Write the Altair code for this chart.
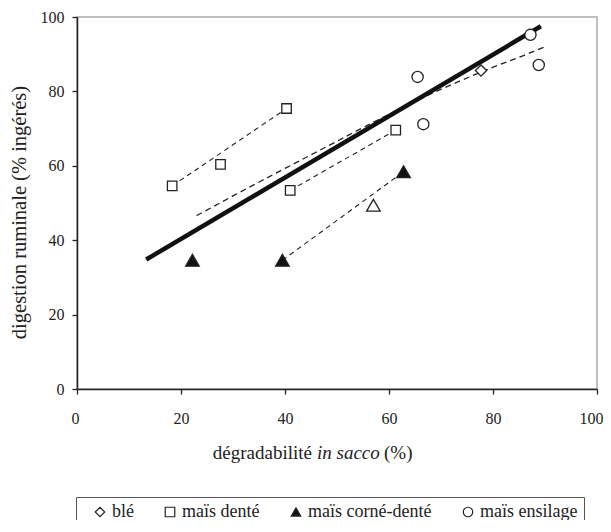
import altair as alt
import pandas as pd

# ---- data ----
categories = ["blé", "maïs denté", "maïs corné-denté", "maïs ensilage"]
pt_x = [77.7, 18.3, 27.6, 40.3, 41.0, 61.3, 22.2, 39.5, 62.8, 65.5, 66.6, 87.2, 88.8]
pt_y = [85.6, 54.6, 60.4, 75.4, 53.4, 69.6, 34.6, 34.6, 58.4, 83.9, 71.2, 95.2, 87.1]
pt_cat = ["blé", "maïs denté", "maïs denté", "maïs denté", "maïs denté", "maïs denté",
          "maïs corné-denté", "maïs corné-denté", "maïs corné-denté",
          "maïs ensilage", "maïs ensilage", "maïs ensilage", "maïs ensilage"]
open_tri_x = [57.0]
open_tri_y = [49.4]

# thick overall regression line
thick_x = [13.3, 89.2]
thick_y = [34.8, 97.5]

# dashed overall curve
curve_x = [23, 30, 40, 50, 56, 62, 68, 74, 80, 86, 90]
curve_y = [46.6, 51.9, 59.3, 66.6, 71.0, 75.2, 79.3, 83.0, 86.5, 89.7, 92.0]

# dashed within-group lines
grp_id = ["a", "a", "b", "b", "c", "c"]
grp_x = [18.3, 40.3, 41.0, 61.3, 39.5, 62.8]
grp_y = [54.6, 75.4, 53.4, 69.6, 34.6, 58.4]

ticks = [0, 20, 40, 60, 80, 100]
x_title_parts = ["dégradabilité", "in sacco", "(%)"]
y_title = "digestion ruminale (% ingérés)"

FONT = "Liberation Serif"
INK = "#222222"

W, H = 520, 372

points = pd.DataFrame({"x": pt_x, "y": pt_y, "cat": pt_cat})
opentri = pd.DataFrame({"x": open_tri_x, "y": open_tri_y})
thick = pd.DataFrame({"x": thick_x, "y": thick_y})
curve = pd.DataFrame({"x": curve_x, "y": curve_y})
groups = pd.DataFrame({"g": grp_id, "x": grp_x, "y": grp_y})

xs = alt.Scale(domain=[0, 100], nice=False, zero=False)
ys = alt.Scale(domain=[0, 100], nice=False, zero=False)

X = alt.X("x:Q", scale=xs, axis=alt.Axis(values=ticks, title=None, labelPadding=16,
                                          grid=False, labelFlush=True,
                                          labelFlushOffset=6))
Y = alt.Y("y:Q", scale=ys, axis=alt.Axis(values=ticks, title=y_title, titleX=-58,
                                          titleY=195, titleAngle=-90,
                                          titleBaseline="middle", titleAlign="center",
                                          titleFont=FONT, titleFontSize=20.5,
                                          titleFontWeight="normal", titleColor=INK,
                                          labelPadding=8, grid=False, labelFlush=False))
Xn = alt.X("x:Q", scale=xs)
Yn = alt.Y("y:Q", scale=ys)

leg = alt.Legend(title=None, orient="none", legendX=-1, legendY=480,
                 direction="horizontal", strokeColor="#555555", padding=6,
                 columnPadding=18, labelFont=FONT, labelFontSize=18, labelColor=INK,
                 labelOffset=3, symbolSize=90, symbolStrokeWidth=1.2, symbolOffset=9)

shape_enc = alt.Shape("cat:N", scale=alt.Scale(domain=categories,
                      range=["diamond", "square", "triangle-up", "circle"]), legend=leg)
fill_enc = alt.Fill("cat:N", scale=alt.Scale(domain=categories,
                    range=["white", "white", "#111111", "white"]), legend=leg)
stroke_enc = alt.Stroke("cat:N", scale=alt.Scale(domain=categories,
                        range=[INK, INK, INK, INK]), legend=leg)

group_lines = alt.Chart(groups).mark_line(
    color=INK, strokeWidth=1.1, strokeDash=[5, 4]
).encode(x=X, y=Y, detail="g:N")

curve_line = alt.Chart(curve).mark_line(
    color=INK, strokeWidth=1.3, strokeDash=[6, 4], interpolate="monotone"
).encode(x=Xn, y=Yn)

thick_line = alt.Chart(thick).mark_line(
    color="#111111", strokeWidth=4.5, strokeCap="butt"
).encode(x=Xn, y=Yn)

sizes = {"blé": 125, "maïs denté": 90, "maïs corné-denté": 185, "maïs ensilage": 125}
point_layers = []
for c in categories:
    point_layers.append(
        alt.Chart(points).transform_filter(alt.datum.cat == c).mark_point(
            strokeWidth=1.3, opacity=1, fillOpacity=1, size=sizes[c]
        ).encode(x=Xn, y=Yn, shape=shape_enc, fill=fill_enc, stroke=stroke_enc)
    )

open_pts = alt.Chart(opentri).mark_point(
    shape="triangle-up", size=185, fill="white", stroke=INK, strokeWidth=1.3,
    opacity=1, fillOpacity=1
).encode(x=Xn, y=Yn)

# x-axis title composed of roman + italic pieces
t1 = alt.Chart(pd.DataFrame({"t": [x_title_parts[0]]})).mark_text(
    font=FONT, fontSize=19, color=INK, align="right", baseline="middle"
).encode(text="t:N", x=alt.value(235), y=alt.value(H + 64))
t2 = alt.Chart(pd.DataFrame({"t": [x_title_parts[1]]})).mark_text(
    font=FONT, fontSize=19, fontStyle="italic", color=INK, align="left", baseline="middle"
).encode(text="t:N", x=alt.value(240), y=alt.value(H + 64))
t3 = alt.Chart(pd.DataFrame({"t": [x_title_parts[2]]})).mark_text(
    font=FONT, fontSize=19, color=INK, align="left", baseline="middle"
).encode(text="t:N", x=alt.value(307), y=alt.value(H + 64))

chart = alt.layer(group_lines, curve_line, thick_line, *point_layers, open_pts,
                  t1, t2, t3).properties(
    width=W, height=H,
    autosize=alt.AutoSizeParams(type="none"),
    padding={"left": 69, "top": 9, "right": 6, "bottom": 131},
    background="white"
).configure_view(
    stroke="#aaaaaa", strokeWidth=1.5
).configure_axis(
    grid=False, domainColor=INK, domainWidth=1.5, tickColor=INK, tickWidth=1.3,
    tickSize=5, labelFont=FONT, labelFontSize=16, labelColor=INK,
)

chart.save("out.html", embed_options={"renderer": "svg", "actions": False})
